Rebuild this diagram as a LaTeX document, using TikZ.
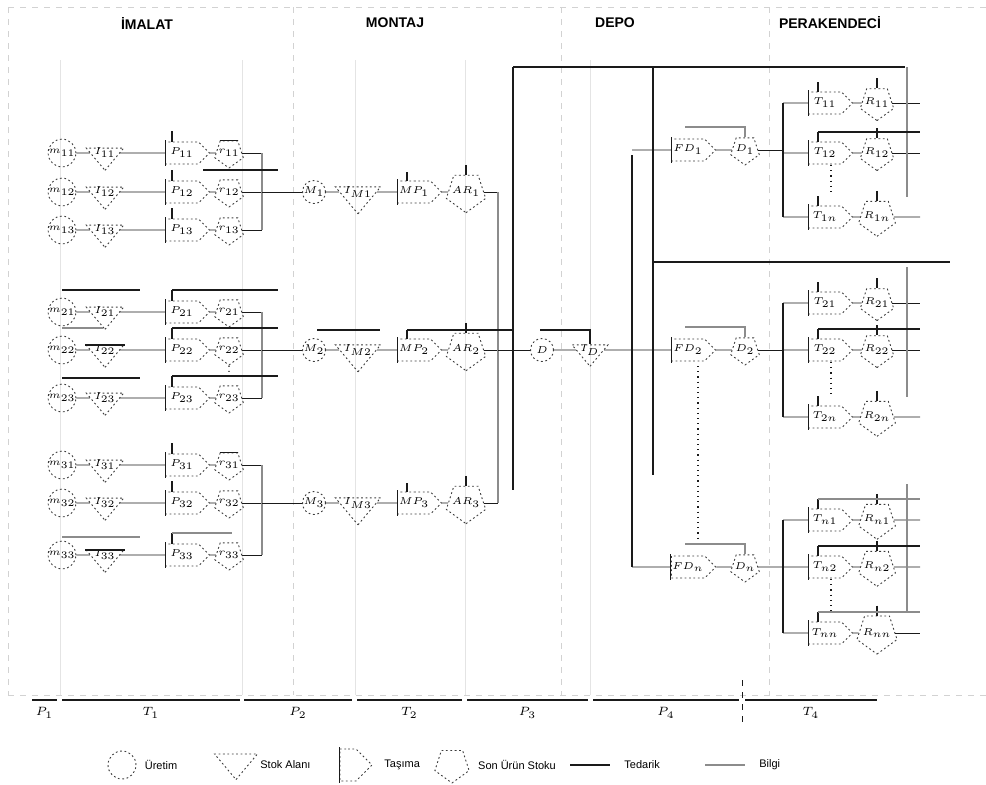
\documentclass[tikz,border=0pt]{standalone}
\usepackage{fontspec}
\setmainfont{Liberation Sans}
\usetikzlibrary{positioning,calc,shapes.geometric,shapes.symbols}
\definecolor{inkDark}{HTML}{1A1A1A}
\definecolor{lineFaint}{HTML}{8C8C8C}
\definecolor{lineGrid}{HTML}{D2D2D2}
\newcommand{\stagefont}{\fontsize{4.5}{5}\selectfont}
\tikzset{
  stage dash/.style={draw=inkDark!85,line width=0.45pt,
                     dash pattern=on 0.9pt off 1.3pt},
  opnode/.style={stage dash,circle,minimum size=11.5pt,inner sep=0pt,
                 font=\stagefont},
  stocknode/.style={stage dash,isosceles triangle,shape border rotate=-90,
                    isosceles triangle apex angle=80,
                    inner sep=0pt,font=\stagefont},
  movenode/.style={stage dash,signal,signal to=east,
                   minimum width=22pt,minimum height=11pt,inner sep=0.5pt,
                   font=\stagefont},
  endnode/.style={stage dash,regular polygon,regular polygon sides=5,
                  shape border rotate=180,minimum size=15pt,inner sep=-1.2pt,
                  font=\stagefont},
  flow/.style={draw=inkDark,line width=0.45pt},
  bus/.style={draw=inkDark,line width=0.9pt},
  bus faint/.style={draw=lineFaint,line width=0.7pt},
  dotline/.style={draw=inkDark,line width=0.6pt,dotted},
  grid line/.style={draw=lineGrid,line width=0.4pt,dashed},
  grid faint/.style={draw=lineGrid!60,line width=0.4pt},
  hdr/.style={font=\fontsize{7}{8}\selectfont\bfseries},
  perlab/.style={font=\fontsize{6}{7}\selectfont},
  legtext/.style={font=\fontsize{5.5}{6}\selectfont,inner sep=1pt},
}
\begin{document}
\begin{tikzpicture}[x=0.5pt,y=-0.5pt]
  \useasboundingbox (0,0) rectangle (986,784);

  % frame and stage separators
  \draw[grid line] (8,7) -- (986,7);
  \draw[grid line] (8,7) -- (8,695);
  \draw[grid line] (8,695) -- (986,695);
  \foreach \x in {293,561,769}
    \draw[grid line] (\x,7) -- (\x,695);
  \foreach \x in {60,242,355,465,590}
    \draw[grid faint] (\x,60) -- (\x,695);

  % headers
  \node[hdr] (hImalat) at (147,23) {İMALAT};
  \node[hdr] (hMontaj) at (395,23) {MONTAJ};
  \node[hdr] (hDepo)   at (615,23) {DEPO};
  \node[hdr] (hPerak)  at (830,23) {PERAKENDECİ};

  % imalat
  \foreach \g/\ya/\yb/\yc in {1/153/192/230,2/312/350/398,3/465/503/555}{
    \foreach \r/\y in {1/\ya,2/\yb,3/\yc}{
      \node[opnode]    (m\g\r) at (62,\y)  {$m_{\g\r}$};
      \node[stocknode] (i\g\r) at (105,\y) {$I_{\g\r}$};
      \node[movenode]  (p\g\r) at (182,\y) {$P_{\g\r}$};
      \node[endnode]   (r\g\r) at (229,\y) {$r_{\g\r}$};
      \coordinate (j\g\r) at (262,\y);
      \draw[flow] (m\g\r) -- (i\g\r);
      \draw[flow] (i\g\r) -- (p\g\r);
      \draw[flow] (p\g\r) -- (r\g\r);
      \draw[flow] (r\g\r) -- (j\g\r);
      \draw[flow] ($(p\g\r.west)+(0,-13)$) -- ($(p\g\r.west)+(0,13)$);
      \draw[bus] (172,\y-22) -- (172,\y-11);
    }
    \draw[bus faint] (j\g1) -- (j\g3);
  }
  \draw[bus] (203,170) -- (278,170);
  \draw[bus] ($(r11.north)+(-9,0)$) -- ($(r11.north)+(9,0)$);
  \draw[bus] (62,290) -- (140,290);
  \draw[bus] (172,290) -- (278,290);
  \draw[bus faint] (62,328) -- (103,328);
  \draw[bus] (172,328) -- (278,328);
  \draw[bus] (i22.left corner) -- (i22.right corner);
  \draw[bus] (62,378) -- (140,378);
  \draw[bus] (172,376) -- (278,376);
  \draw[dotline] (r22.south) -- (229,376);
  \draw[bus] ($(r31.north)+(-9,0)$) -- ($(r31.north)+(9,0)$);
  \draw[bus faint] (62,537) -- (140,537);
  \draw[bus faint] (172,533) -- (232,533);
  \draw[bus] (i33.left corner) -- (i33.right corner);

  % montaj
  \foreach \k/\y in {1/192,2/350,3/503}{
    \node[opnode]    (a\k) at (314,\y) {$M_{\k}$};
    \node[stocknode] (b\k) at (358,\y) {$I_{M\k}$};
    \node[movenode]  (c\k) at (414,\y) {$MP_{\k}$};
    \node[endnode]   (e\k) at (466,\y) {$AR_{\k}$};
    \coordinate (s\k) at (498,\y);
    \draw[flow] (j\k2) -- (a\k);
    \draw[flow] (a\k) -- (b\k);
    \draw[flow] (b\k) -- (c\k);
    \draw[flow] (c\k) -- (e\k);
    \draw[flow] (e\k) -- (s\k);
    \draw[flow] ($(c\k.west)+(0,-13)$) -- ($(c\k.west)+(0,13)$);
    \draw[bus] (407,\y-20) -- (407,\y-11);
    \draw[bus] ($(e\k.north)+(0,-10)$) -- (e\k.north);
  }
  \draw[bus faint] (s1) -- (s3);
  \draw[bus] (317,330) -- (380,330);
  \draw[bus] (407,330) -- (513,330);

  % depo
  \draw[bus] (513,67) -- (905,67);
  \draw[bus] (513,67) -- (513,490);
  \draw[bus] (653,67) -- (653,475);
  \draw[bus] (653,262) -- (950,262);
  \node[opnode]    (dc) at (542,350) {$D$};
  \node[stocknode] (dt) at (590,350) {$I_D$};
  \draw[flow] (s2) -- (dc);
  \draw[flow] (dc) -- (dt);
  \draw[bus] (540,330) -| (dt.north);
  \foreach \n/\nl/\y in {1/1/150,2/2/350,3/n/567}{
    \node[movenode] (f\n) at (688,\y) {$FD_{\nl}$};
    \node[endnode]  (d\n) at (745,\y) {$D_{\nl}$};
    \coordinate (q\n) at (632,\y);
    \coordinate (v\n) at (783,\y);
    \draw[flow] (q\n) -- (f\n);
    \draw[flow] (f\n) -- (d\n);
    \draw[flow] (d\n) -- (v\n);
    \draw[flow] ($(f\n.west)+(0,-13)$) -- ($(f\n.west)+(0,13)$);
    \draw[bus faint] (685,\y-23) -| (d\n.north);
  }
  \draw[flow] (dt) -- (q2);
  \draw[bus] (632,155) -- (q3);
  \draw[dotline] (698,366) -- (698,542);

  % perakendeci
  \foreach \n/\nl/\ya/\yb/\yc in {1/1/103/153/217,2/2/303/350/417,3/n/520/567/633}{
    \foreach \r/\rl/\y in {1/1/\ya,2/2/\yb,3/n/\yc}{
      \node[movenode] (t\n\r) at (825,\y) {$T_{\nl\rl}$};
      \node[endnode]  (u\n\r) at (877,\y) {$R_{\nl\rl}$};
      \coordinate (w\n\r) at (783,\y);
      \coordinate (z\n\r) at (920,\y);
      \draw[flow] (w\n\r) -- (t\n\r);
      \draw[flow] (t\n\r) -- (u\n\r);
      \draw[flow] (u\n\r) -- (z\n\r);
      \draw[flow] ($(t\n\r.west)+(0,-13)$) -- ($(t\n\r.west)+(0,13)$);
      \draw[bus] (818,\y-21) -- (818,\y-11);
      \draw[bus] ($(u\n\r.north)+(0,-10)$) -- (u\n\r.north);
    }
    \draw[bus] (w\n1) -- (w\n3);
    \draw[bus faint] (907,\ya-36) -- (907,\yc-20);
    \draw[dotline] (831,\yb+12) -- (831,\yc-22);
    \draw[bus] (818,\yb-21) -- (920,\yb-21);
  }
  \draw[bus faint] (818,499) -- (920,499);
  \draw[bus faint] (818,612) -- (920,612);

  % periods
  \foreach \a/\b/\lab [count=\i] in {32/57/P_1,62/240/T_1,244/352/P_2,
      357/462/T_2,467/588/P_3,593/739/P_4,745/877/T_4}{
    \draw[bus] (\a,700) -- (\b,700);
    \node[perlab] (per\i) at ({(\a+\b)/2},713) {$\lab$};
  }
  \draw[dashed,inkDark,line width=0.5pt] (742,680) -- (742,724);

  % legend
  \node[opnode,minimum size=14pt] (lgOp) at (122,765) {};
  \node[legtext,right=3pt of lgOp] (lgOpT) {Üretim};
  \node[stocknode,inner sep=4pt] (lgSt) at (236,762) {};
  \node[legtext,anchor=west] (lgStT) at (258,765) {Stok Alanı};
  \node[movenode,minimum width=16pt,minimum height=16pt] (lgMv) at (348,765) {};
  \draw[flow] ($(lgMv.west)+(0,-18)$) -- ($(lgMv.west)+(0,18)$);
  \node[legtext,anchor=west] (lgMvT) at (382,765) {Taşıma};
  \node[endnode,minimum size=18pt] (lgEn) at (452,765) {};
  \node[legtext,right=4pt of lgEn] (lgEnT) {Son Ürün Stoku};
  \coordinate (lgA1) at (570,765);
  \coordinate (lgA2) at (610,765);
  \draw[bus] (lgA1) -- (lgA2);
  \node[legtext,right=6pt of lgA2] (lgAT) {Tedarik};
  \coordinate (lgB1) at (705,765);
  \coordinate (lgB2) at (745,765);
  \draw[bus faint] (lgB1) -- (lgB2);
  \node[legtext,right=6pt of lgB2] (lgBT) {Bilgi};
\end{tikzpicture}
\end{document}
